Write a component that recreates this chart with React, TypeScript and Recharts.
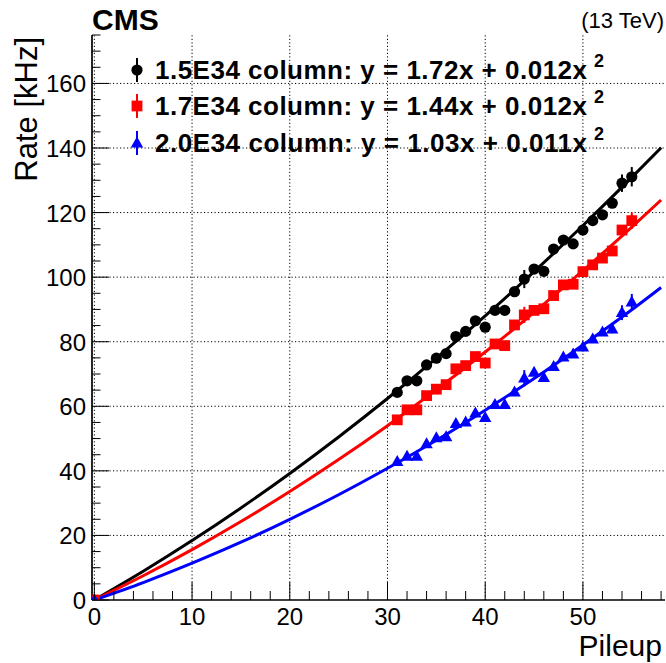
import React from 'react';
import { ComposedChart, Scatter, Line, XAxis, YAxis, ErrorBar, ReferenceLine } from 'recharts';

// pileup values of the measured points
const pileup = [0, 31, 32, 33, 34, 35, 36, 37, 38, 39, 40, 41, 42, 43, 44, 45, 46, 47, 48, 49, 50, 51, 52, 53, 54, 55];

// measured rates [kHz]
const rate15 = [0, 64.3, 67.9, 67.9, 72.8, 74.9, 76.3, 81.6, 83.2, 86.5, 84.5, 89.7, 89.7, 95.5, 99.4, 102.5, 101.8, 108.7, 111.5, 110.3, 114.6, 117.5, 119.3, 122.9, 129.1, 131.1];
const rate17 = [0, 55.8, 58.9, 58.9, 63.3, 65.3, 66.7, 71.6, 72.6, 75.4, 73.4, 79.3, 78.8, 85.2, 88.3, 89.7, 90.2, 94.3, 97.6, 97.8, 101.7, 103.8, 105.9, 108.1, 114.6, 117.5];
const rate20 = [0, 42.9, 44.5, 44.5, 48.4, 50.2, 50.5, 54.6, 55.1, 57.9, 56.5, 60.5, 60.5, 64.4, 68.7, 70.5, 68.9, 72.3, 75.2, 76.2, 78.3, 80.8, 83.0, 83.9, 89.0, 92.3];

// errors on the rates
const err15 = [0, 1.0, 1.0, 1.0, 1.0, 1.0, 1.0, 1.1, 1.1, 1.1, 1.1, 1.2, 1.2, 1.2, 2.8, 1.3, 1.3, 1.3, 1.4, 1.4, 1.4, 1.5, 1.5, 1.5, 2.7, 3.0];
const err17 = [0, 0.9, 0.9, 0.9, 1.0, 1.0, 1.0, 1.0, 1.0, 1.1, 1.1, 1.1, 1.1, 1.2, 2.5, 1.2, 1.2, 1.3, 1.3, 1.3, 1.3, 1.4, 1.4, 1.4, 1.5, 2.6];
const err20 = [0, 0.8, 0.8, 0.8, 0.8, 0.9, 0.9, 0.9, 0.9, 1.0, 1.0, 1.0, 1.0, 1.0, 2.5, 1.1, 1.1, 1.1, 1.1, 1.2, 1.2, 1.2, 1.2, 1.3, 2.3, 2.5];

// fit curves read along the pileup axis
const fitX = [0, 5, 10, 15, 20, 25, 30, 35, 40, 45, 50, 55, 58];
const fit15 = [0, 8.9, 18.4, 28.5, 39.2, 50.5, 62.4, 74.9, 88.0, 101.7, 116.0, 130.9, 140.1];
const fit17 = [0, 7.5, 15.6, 24.3, 33.6, 43.5, 54.0, 65.1, 76.8, 89.1, 102.0, 115.5, 123.9];
const fit20 = [0, 5.4, 11.4, 17.9, 25.0, 32.6, 40.8, 49.5, 58.8, 68.6, 79.0, 89.9, 96.8];

const seriesNames = ['1.5E34 column: y = 1.72x + 0.012x', '1.7E34 column: y = 1.44x + 0.012x', '2.0E34 column: y = 1.03x + 0.011x'];

const xMajor = [0, 10, 20, 30, 40, 50];
const xTicks = [0, 2, 4, 6, 8, 10, 12, 14, 16, 18, 20, 22, 24, 26, 28, 30, 32, 34, 36, 38, 40, 42, 44, 46, 48, 50, 52, 54, 56, 58];
const yMajor = [0, 20, 40, 60, 80, 100, 120, 140, 160];
const yTicks = [0, 5, 10, 15, 20, 25, 30, 35, 40, 45, 50, 55, 60, 65, 70, 75, 80, 85, 90, 95, 100, 105, 110, 115, 120, 125, 130, 135, 140, 145, 150, 155, 160, 165, 170, 175];

const FONT = '"Liberation Sans", Arial, Helvetica, sans-serif';

const points = (ys: number[], es: number[]) => pileup.map((x, i) => ({ x, y: ys[i], err: es[i] }));
const curve = (ys: number[]) => fitX.map((x, i) => ({ x, y: ys[i] }));

const Circle = (p: any) => <circle cx={p.cx} cy={p.cy} r={5.6} fill="#000" />;
const Square = (p: any) => <rect x={p.cx - 5.4} y={p.cy - 5.4} width={10.8} height={10.8} fill="#ff0000" />;
const Triangle = (p: any) => (
  <polygon points={`${p.cx},${p.cy - 6.6} ${p.cx - 6.2},${p.cy + 4.4} ${p.cx + 6.2},${p.cy + 4.4}`} fill="#0000ff" />
);

const XTick = (props: any) => {
  const { x, y, payload } = props;
  const major = xMajor.includes(payload.value);
  return (
    <g>
      <line x1={x} x2={x} y1={y} y2={y - (major ? 18 : 9)} stroke="#000" strokeWidth={1} />
      {major && (
        <text x={x} y={y + 25} textAnchor="middle" fontSize={24} fontFamily={FONT} fill="#000">
          {payload.value}
        </text>
      )}
    </g>
  );
};

const YTick = (props: any) => {
  const { x, y, payload } = props;
  const major = yMajor.includes(payload.value);
  return (
    <g>
      <line x1={x} x2={x + (major ? 17 : 8.5)} y1={y} y2={y} stroke="#000" strokeWidth={1} />
      {major && (
        <text x={x - 6} y={y + 9} textAnchor="end" fontSize={24} fontFamily={FONT} fill="#000">
          {payload.value}
        </text>
      )}
    </g>
  );
};

const legendRows = [
  { y: 70, color: '#000', mark: 'circle' },
  { y: 106, color: '#ff0000', mark: 'square' },
  { y: 143, color: '#0000ff', mark: 'triangle' },
];

const Overlay = () => (
  <svg width={666} height={663} style={{ position: 'absolute', left: 0, top: 0, pointerEvents: 'none' }}>
    <text x={92} y={30} fontSize={30} fontWeight="bold" fontFamily={FONT}>CMS</text>
    <text x={664} y={28} fontSize={22} textAnchor="end" fontFamily={FONT}>(13 TeV)</text>
    <text x={662} y={656} fontSize={30} textAnchor="end" fontFamily={FONT}>Pileup</text>
    <text transform="translate(37, 37) rotate(-90)" fontSize={31} textAnchor="end" fontFamily={FONT}>Rate [kHz]</text>
    {legendRows.map((r, i) => (
      <g key={i}>
        <line x1={137} x2={137} y1={r.y - 12} y2={r.y + 12} stroke={r.color} strokeWidth={2} />
        {r.mark === 'circle' && <Circle cx={137} cy={r.y} />}
        {r.mark === 'square' && <Square cx={137} cy={r.y} />}
        {r.mark === 'triangle' && <Triangle cx={137} cy={r.y} />}
        <text x={155} y={r.y + 9} fontSize={26} fontWeight="bold" fontFamily={FONT} textLength={432} lengthAdjust="spacing">
          {seriesNames[i]}
        </text>
        <text x={594} y={r.y - 3} fontSize={18} fontWeight="bold" fontFamily={FONT}>2</text>
      </g>
    ))}
  </svg>
);

const gridStyle = { stroke: '#000', strokeWidth: 1, strokeDasharray: '1.2 2.3' };

export default function App() {
  return (
    <div style={{ position: 'absolute', left: 0, top: 0, width: 666, height: 663, background: '#fff' }}>
      <ComposedChart width={666} height={663} margin={{ top: 35, right: 1, left: 0, bottom: 0 }}>
        <XAxis
          xAxisId="main"
          dataKey="x"
          type="number"
          domain={[-0.24, 58.4]}
          ticks={xTicks}
          interval={0}
          height={63}
          tickSize={0}
          tickMargin={0}
          tickLine={false}
          tick={<XTick />}
          axisLine={{ stroke: '#000', strokeWidth: 1.7 }}
          allowDataOverflow
        />
        <XAxis xAxisId="top" orientation="top" type="number" domain={[0, 1]} height={0} tick={false} tickLine={false} axisLine={{ stroke: '#000', strokeWidth: 1.7 }} />
        <YAxis
          yAxisId="main"
          type="number"
          domain={[0, 175]}
          ticks={yTicks}
          interval={0}
          width={92}
          tickSize={0}
          tickMargin={0}
          tickLine={false}
          tick={<YTick />}
          axisLine={{ stroke: '#000', strokeWidth: 1.7 }}
          allowDataOverflow
        />
        <YAxis yAxisId="right" orientation="right" type="number" domain={[0, 1]} width={0} tick={false} tickLine={false} axisLine={{ stroke: '#000', strokeWidth: 1.7 }} />
        {xMajor.map((v) => (
          <ReferenceLine key={`gx${v}`} xAxisId="main" yAxisId="main" x={v} {...gridStyle} />
        ))}
        {yMajor.filter((v) => v > 0).map((v) => (
          <ReferenceLine key={`gy${v}`} xAxisId="main" yAxisId="main" y={v} {...gridStyle} />
        ))}
        <Scatter xAxisId="main" yAxisId="main" data={points(rate15, err15)} dataKey="y" shape={<Circle />} isAnimationActive={false}>
          <ErrorBar dataKey="err" direction="y" width={0} stroke="#000" strokeWidth={2} isAnimationActive={false} />
        </Scatter>
        <Scatter xAxisId="main" yAxisId="main" data={points(rate17, err17)} dataKey="y" shape={<Square />} isAnimationActive={false}>
          <ErrorBar dataKey="err" direction="y" width={0} stroke="#ff0000" strokeWidth={2} isAnimationActive={false} />
        </Scatter>
        <Scatter xAxisId="main" yAxisId="main" data={points(rate20, err20)} dataKey="y" shape={<Triangle />} isAnimationActive={false}>
          <ErrorBar dataKey="err" direction="y" width={0} stroke="#0000ff" strokeWidth={2} isAnimationActive={false} />
        </Scatter>
        <Line xAxisId="main" yAxisId="main" data={curve(fit15)} dataKey="y" type="monotone" stroke="#000" strokeWidth={3} dot={false} isAnimationActive={false} />
        <Line xAxisId="main" yAxisId="main" data={curve(fit17)} dataKey="y" type="monotone" stroke="#ff0000" strokeWidth={3} dot={false} isAnimationActive={false} />
        <Line xAxisId="main" yAxisId="main" data={curve(fit20)} dataKey="y" type="monotone" stroke="#0000ff" strokeWidth={3} dot={false} isAnimationActive={false} />
      </ComposedChart>
      <Overlay />
    </div>
  );
}
